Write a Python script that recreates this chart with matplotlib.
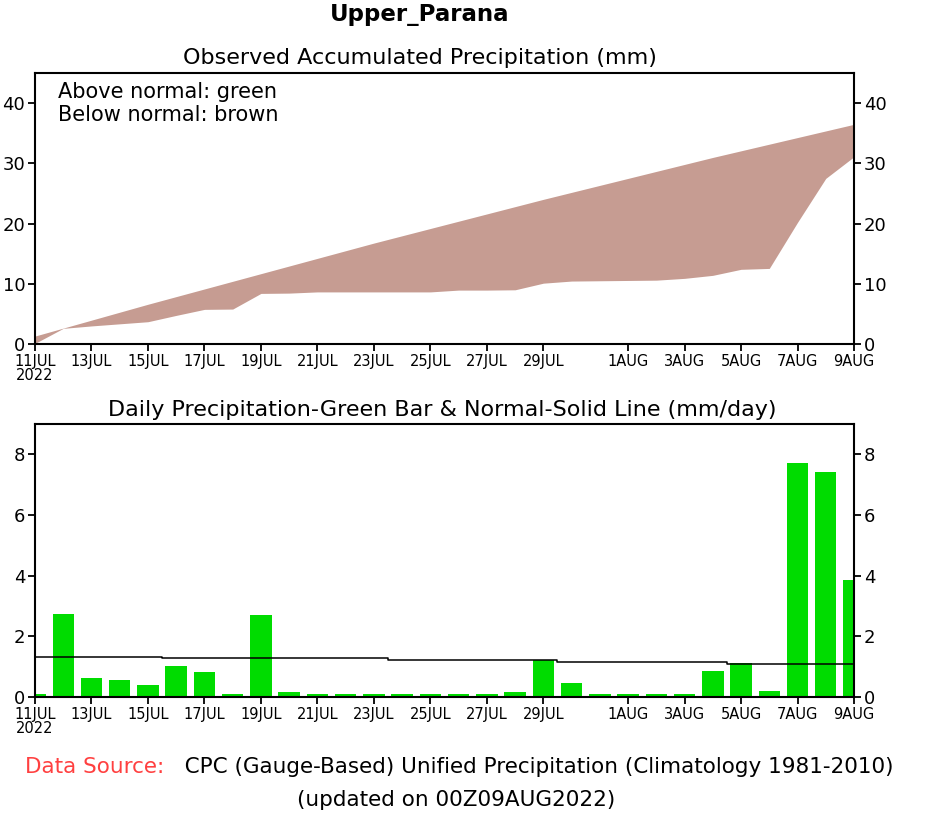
import pandas as pd
import numpy as np
import matplotlib
matplotlib.use('Agg')
import matplotlib.pyplot as plt

# days shown on both panels
days = pd.date_range('2022-07-11', '2022-08-09', freq='D')

# daily precipitation (mm/day)
daily_obs = [0.10, 2.75, 0.61, 0.57, 0.41, 1.03, 0.83, 0.10, 2.70, 0.15,
             0.10, 0.10, 0.10, 0.10, 0.10, 0.10, 0.10, 0.15, 1.23, 0.45,
             0.10, 0.10, 0.10, 0.10, 0.87, 1.12, 0.21, 7.72, 7.42, 3.85]

# daily normal (mm/day), the solid line
daily_normal = [1.32, 1.32, 1.32, 1.32, 1.32, 1.27, 1.27, 1.27, 1.27, 1.27,
                1.27, 1.27, 1.27, 1.21, 1.21, 1.21, 1.21, 1.21, 1.21, 1.16,
                1.16, 1.16, 1.16, 1.16, 1.16, 1.10, 1.10, 1.10, 1.10, 1.10]

# accumulated observed and normal (mm)
accum_obs = [0.10, 2.60, 3.00, 3.35, 3.70, 4.75, 5.75, 5.80, 8.40, 8.45,
             8.65, 8.65, 8.65, 8.65, 8.65, 8.95, 8.95, 9.00, 10.10, 10.45,
             10.50, 10.55, 10.60, 10.90, 11.40, 12.40, 12.55, 20.20, 27.50, 31.10]
accum_normal = [1.32, 2.64, 3.96, 5.28, 6.60, 7.87, 9.14, 10.41, 11.68, 12.95,
                14.22, 15.49, 16.76, 17.97, 19.18, 20.39, 21.60, 22.81, 24.02, 25.18,
                26.34, 27.50, 28.66, 29.82, 30.98, 32.08, 33.18, 34.28, 35.38, 36.48]

tick_dates = ['2022-07-11', '2022-07-13', '2022-07-15', '2022-07-17', '2022-07-19',
              '2022-07-21', '2022-07-23', '2022-07-25', '2022-07-27', '2022-07-29',
              '2022-08-01', '2022-08-03', '2022-08-05', '2022-08-07', '2022-08-09']
tick_labels = ['11JUL\n2022', '13JUL', '15JUL', '17JUL', '19JUL', '21JUL', '23JUL',
               '25JUL', '27JUL', '29JUL', '1AUG', '3AUG', '5AUG', '7AUG', '9AUG']

brown = '#c69c92'
green = '#00dc00'

plt.rcParams['font.family'] = ['DejaVu Sans']

W, H = 926, 813
fig = plt.figure(figsize=(W / 100, H / 100), dpi=100)


def px_axes(left, top, right, bottom):
    return fig.add_axes([left / W, 1 - bottom / H, (right - left) / W, (bottom - top) / H])


def style(ax, yticks):
    ax.set_xlim(days[0], days[-1])
    ax.set_xticks(pd.to_datetime(tick_dates))
    ax.set_xticklabels(tick_labels, fontsize=10.5, linespacing=0.95)
    ax.set_yticks(yticks)
    ax.set_yticklabels([str(v) for v in yticks], fontsize=13)
    ax.tick_params(axis='y', direction='out', length=5, width=1.3, pad=2,
                   left=True, right=True, labelleft=True, labelright=True)
    ax.tick_params(axis='x', direction='out', length=5, width=1.3, pad=2)
    for s in ax.spines.values():
        s.set_linewidth(1.5)


# top panel: accumulated precipitation
ax1 = px_axes(35, 73, 854, 344)
obs = np.array(accum_obs)
nrm = np.array(accum_normal)
ax1.fill_between(days, obs, nrm, where=obs < nrm, interpolate=True,
                 color=brown, linewidth=0)
ax1.fill_between(days, obs, nrm, where=obs >= nrm, interpolate=True,
                 color=green, linewidth=0)
ax1.set_ylim(0, 45)
style(ax1, [0, 10, 20, 30, 40])
ax1.text(0.028, 0.968, 'Above normal: green\nBelow normal: brown',
         transform=ax1.transAxes, fontsize=15, va='top', ha='left', linespacing=1.2)

# bottom panel: daily precipitation and normal
ax2 = px_axes(35, 424, 854, 697)
ax2.bar(days, daily_obs, width=0.76, color=green, linewidth=0)
ax2.step(days, daily_normal, where='mid', color='black', linewidth=1.1)
ax2.set_ylim(0, 9)
style(ax2, [0, 2, 4, 6, 8])

# titles
fig.text(420 / W, 1 - 15 / H, 'Upper_Parana', fontsize=16.5, fontweight='bold',
         ha='center', va='center')
fig.text(420 / W, 1 - 58 / H, 'Observed Accumulated Precipitation (mm)',
         fontsize=16, ha='center', va='center')
fig.text(442 / W, 1 - 410 / H, 'Daily Precipitation-Green Bar & Normal-Solid Line (mm/day)',
         fontsize=16, ha='center', va='center')

# footer
src = fig.text(25 / W, 1 - 767 / H, 'Data Source:', fontsize=15.5, color='#ff4040',
               ha='left', va='center')
ax2.annotate('   CPC (Gauge-Based) Unified Precipitation (Climatology 1981-2010)',
             xy=(1, 0), xycoords=src, va='bottom', ha='left', fontsize=15.5,
             annotation_clip=False)
fig.text(456 / W, 1 - 800 / H, '(updated on 00Z09AUG2022)', fontsize=15.5,
         ha='center', va='center')

fig.savefig('out.png', dpi=100)
